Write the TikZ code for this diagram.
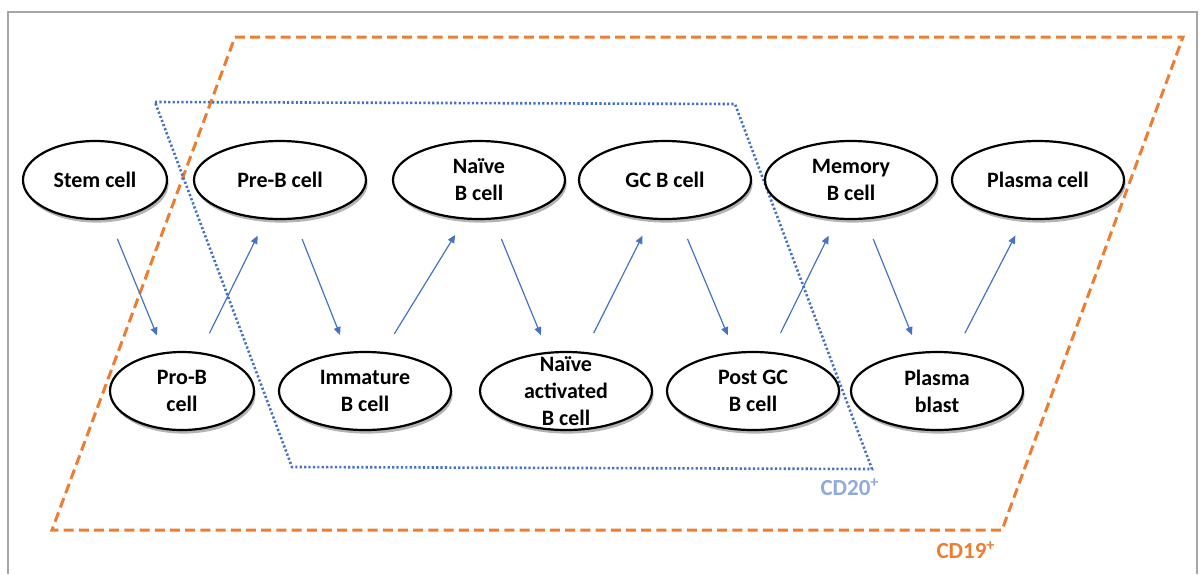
\documentclass[tikz,border=0pt]{standalone}
\usepackage{fontspec}
\setmainfont{Carlito}
\usetikzlibrary{positioning,
                arrows.meta,                % arrow tips
                shapes.geometric,           % ellipse cells
                shadows}                    % shadow under the cells

\definecolor{cdorange}{HTML}{ED7D31}
\definecolor{cdblue}{HTML}{4472C4}
\definecolor{cdlight}{HTML}{8FAADC}
\definecolor{framegray}{HTML}{A6A6A6}

\begin{document}
\begin{tikzpicture}[x=0.5pt, y=-0.5pt,
        celltext/.style={font=\fontsize{11}{13.5}\selectfont\bfseries, align=center, inner sep=0pt},
        cell/.style={ellipse, draw, line width=1.1pt, fill=white, inner sep=0pt,
                     minimum width=86pt, minimum height=39pt,
                     drop shadow={shadow xshift=0.8pt, shadow yshift=-1.8pt, opacity=0.6},
                     label={[celltext]center:#1}},
        smallcell/.style={cell=#1, minimum width=72pt},
        link/.style={cdblue, line width=0.6pt, -{Triangle[length=4pt, width=3.5pt]},
                     shorten <=10.5pt, shorten >=9pt}]
        \useasboundingbox (0,0) rectangle (1200,574);
        \draw[framegray, line width=1pt] (8,574) -- (8,12) -- (1197,12) -- (1197,574);

        % CD19+ and CD20+ regions
        \draw[cdorange, line width=1.5pt, dash pattern=on 5pt off 2.6pt]
            (235,37) -- (1183,37) -- (1002,530) -- (52,530) -- cycle;
        \draw[cdblue, line width=1.3pt, dash pattern=on 1.1pt off 1.1pt]
            (155,102) -- (735,104) -- (872,469) -- (292,467) -- cycle;
        \node[cdlight, font=\fontsize{11.5}{13}\selectfont\bfseries] (cd20) at (850,487) {CD20\textsuperscript{+}};
        \node[cdorange, font=\fontsize{11.5}{13}\selectfont\bfseries] (cd19) at (966,550) {CD19\textsuperscript{+}};

        % top row
        \node[smallcell={Stem cell}] (stem) at (95,180) {};
        \node[cell={Pre-B cell}] (preb) at (280,180) {};
        \node[cell={Naïve\\B cell}] (naive) at (479,180) {};
        \node[cell={GC B cell}] (gc) at (665,180) {};
        \node[cell={Memory\\B cell}] (memory) at (851,180) {};
        \node[cell={Plasma cell}] (plasma) at (1038,180) {};

        % bottom row
        \node[smallcell={Pro-B\\cell}] (prob) at (182,391) {};
        \node[cell={Immature\\B cell}] (immature) at (365,391) {};
        \node[cell={Naïve\\activated\\B cell}] (naiveact) at (566,391) {};
        \node[cell={Post GC\\B cell}] (postgc) at (753,391) {};
        \node[cell={Plasma\\blast}] (plasmablast) at (937,391) {};

        \draw[link] (stem.-70) -- (prob.115);
        \draw[link] (prob.65) -- (preb.-110);
        \draw[link] (preb.-70) -- (immature.115);
        \draw[link] (immature.65) -- (naive.-110);
        \draw[link] (naive.-70) -- (naiveact.115);
        \draw[link] (naiveact.65) -- (gc.-110);
        \draw[link] (gc.-70) -- (postgc.115);
        \draw[link] (postgc.65) -- (memory.-110);
        \draw[link] (memory.-70) -- (plasmablast.115);
        \draw[link] (plasmablast.65) -- (plasma.-110);
\end{tikzpicture}
\end{document}
